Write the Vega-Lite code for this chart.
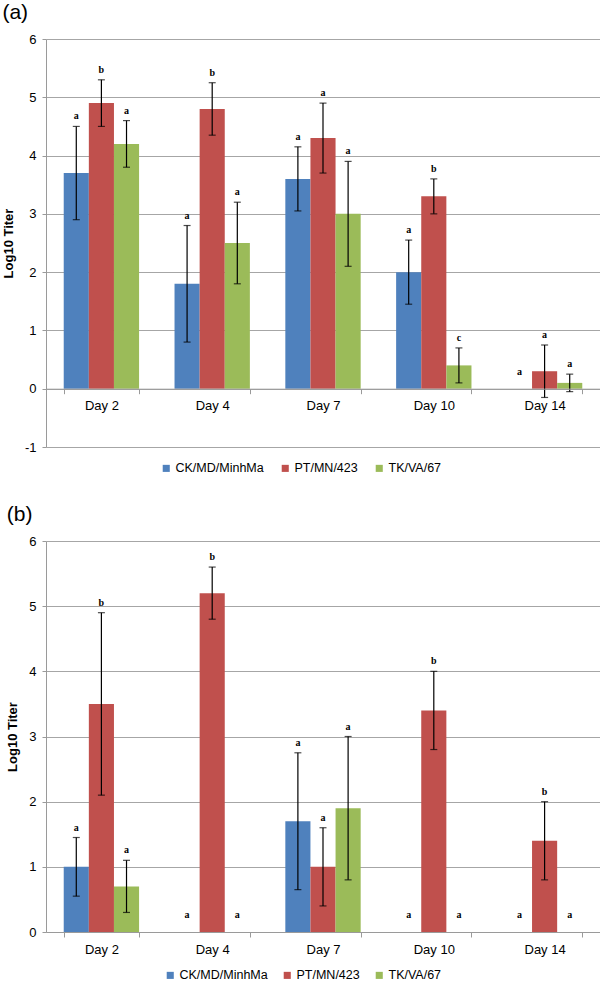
{
  "$schema": "https://vega.github.io/schema/vega-lite/v6.json",
  "background": "white",
  "padding": {"left": 2, "top": 2, "right": 3, "bottom": 0},
  "config": {
    "view": {"stroke": null},
    "font": "Liberation Sans",
    "axis": {"labelFont": "Liberation Sans", "labelFontSize": 13, "labelColor": "black", "titleFont": "Liberation Sans", "titleColor": "black", "gridColor": "#a6a6a6", "gridWidth": 1, "domainColor": "#9a9a9a", "tickColor": "#9a9a9a"},
    "title": {"font": "Liberation Sans", "fontSize": 21, "fontWeight": "normal", "color": "black", "anchor": "start", "frame": "bounds", "offset": 10},
    "legend": {"labelFont": "Liberation Sans", "labelFontSize": 12.5, "labelColor": "black", "padding": 0}
  },
  "datasets": {
    "d": [
      {"panel": "a", "day": "Day 2", "strain": "CK/MD/MinhMa", "value": 3.7, "lo": 2.9, "hi": 4.5, "letter": "a"},
      {"panel": "a", "day": "Day 2", "strain": "PT/MN/423", "value": 4.9, "lo": 4.5, "hi": 5.3, "letter": "b"},
      {"panel": "a", "day": "Day 2", "strain": "TK/VA/67", "value": 4.2, "lo": 3.8, "hi": 4.6, "letter": "a"},
      {"panel": "a", "day": "Day 4", "strain": "CK/MD/MinhMa", "value": 1.8, "lo": 0.8, "hi": 2.8, "letter": "a"},
      {"panel": "a", "day": "Day 4", "strain": "PT/MN/423", "value": 4.8, "lo": 4.35, "hi": 5.25, "letter": "b"},
      {"panel": "a", "day": "Day 4", "strain": "TK/VA/67", "value": 2.5, "lo": 1.8, "hi": 3.2, "letter": "a"},
      {"panel": "a", "day": "Day 7", "strain": "CK/MD/MinhMa", "value": 3.6, "lo": 3.05, "hi": 4.15, "letter": "a"},
      {"panel": "a", "day": "Day 7", "strain": "PT/MN/423", "value": 4.3, "lo": 3.7, "hi": 4.9, "letter": "a"},
      {"panel": "a", "day": "Day 7", "strain": "TK/VA/67", "value": 3.0, "lo": 2.1, "hi": 3.9, "letter": "a"},
      {"panel": "a", "day": "Day 10", "strain": "CK/MD/MinhMa", "value": 2.0, "lo": 1.45, "hi": 2.55, "letter": "a"},
      {"panel": "a", "day": "Day 10", "strain": "PT/MN/423", "value": 3.3, "lo": 3.0, "hi": 3.6, "letter": "b"},
      {"panel": "a", "day": "Day 10", "strain": "TK/VA/67", "value": 0.4, "lo": 0.1, "hi": 0.7, "letter": "c"},
      {"panel": "a", "day": "Day 14", "strain": "CK/MD/MinhMa", "value": 0, "lo": null, "hi": null, "letter": "a"},
      {"panel": "a", "day": "Day 14", "strain": "PT/MN/423", "value": 0.3, "lo": -0.15, "hi": 0.75, "letter": "a"},
      {"panel": "a", "day": "Day 14", "strain": "TK/VA/67", "value": 0.1, "lo": -0.05, "hi": 0.25, "letter": "a"},
      {"panel": "b", "day": "Day 2", "strain": "CK/MD/MinhMa", "value": 1.0, "lo": 0.55, "hi": 1.45, "letter": "a"},
      {"panel": "b", "day": "Day 2", "strain": "PT/MN/423", "value": 3.5, "lo": 2.1, "hi": 4.9, "letter": "b"},
      {"panel": "b", "day": "Day 2", "strain": "TK/VA/67", "value": 0.7, "lo": 0.3, "hi": 1.1, "letter": "a"},
      {"panel": "b", "day": "Day 4", "strain": "CK/MD/MinhMa", "value": 0, "lo": null, "hi": null, "letter": "a"},
      {"panel": "b", "day": "Day 4", "strain": "PT/MN/423", "value": 5.2, "lo": 4.8, "hi": 5.6, "letter": "b"},
      {"panel": "b", "day": "Day 4", "strain": "TK/VA/67", "value": 0, "lo": null, "hi": null, "letter": "a"},
      {"panel": "b", "day": "Day 7", "strain": "CK/MD/MinhMa", "value": 1.7, "lo": 0.65, "hi": 2.75, "letter": "a"},
      {"panel": "b", "day": "Day 7", "strain": "PT/MN/423", "value": 1.0, "lo": 0.4, "hi": 1.6, "letter": "a"},
      {"panel": "b", "day": "Day 7", "strain": "TK/VA/67", "value": 1.9, "lo": 0.8, "hi": 3.0, "letter": "a"},
      {"panel": "b", "day": "Day 10", "strain": "CK/MD/MinhMa", "value": 0, "lo": null, "hi": null, "letter": "a"},
      {"panel": "b", "day": "Day 10", "strain": "PT/MN/423", "value": 3.4, "lo": 2.8, "hi": 4.0, "letter": "b"},
      {"panel": "b", "day": "Day 10", "strain": "TK/VA/67", "value": 0, "lo": null, "hi": null, "letter": "a"},
      {"panel": "b", "day": "Day 14", "strain": "CK/MD/MinhMa", "value": 0, "lo": null, "hi": null, "letter": "a"},
      {"panel": "b", "day": "Day 14", "strain": "PT/MN/423", "value": 1.4, "lo": 0.8, "hi": 2.0, "letter": "b"},
      {"panel": "b", "day": "Day 14", "strain": "TK/VA/67", "value": 0, "lo": null, "hi": null, "letter": "a"}
    ]
  },
  "spacing": 29,
  "resolve": {"legend": {"color": "independent"}, "scale": {"y": "independent"}},
  "vconcat": [
    {
      "title": {"text": "(a)"},
      "width": 554,
      "height": 408,
      "data": {"name": "d"},
      "transform": [{"filter": "datum.panel == 'a'"}],
      "encoding": {
        "x": {"field": "day", "type": "nominal", "sort": ["Day 2", "Day 4", "Day 7", "Day 10", "Day 14"], "scale": {"paddingInner": 0.32, "paddingOuter": 0.16}, "axis": {"title": null, "labelAngle": 0, "offset": -58.3, "tickBand": "extent", "tickSize": 5, "labelPadding": 6, "grid": false, "zindex": 1}},
        "xOffset": {"field": "strain", "type": "nominal", "sort": ["CK/MD/MinhMa", "PT/MN/423", "TK/VA/67"]}
      },
      "layer": [
        {
          "mark": {"type": "bar"},
          "encoding": {
            "y": {"field": "value", "type": "quantitative", "scale": {"domain": [-1, 6], "nice": false}, "axis": {"title": "Log10 Titer", "labelExpr": "'' + datum.value", "titleFontSize": 13, "titleFontWeight": "bold", "titlePadding": 9, "values": [-1, 0, 1, 2, 3, 4, 5, 6], "tickSize": 4, "labelPadding": 6, "grid": true}},
            "color": {"field": "strain", "type": "nominal", "sort": ["CK/MD/MinhMa", "PT/MN/423", "TK/VA/67"], "scale": {"range": ["#4F81BD", "#C0504D", "#9BBB59"]}, "legend": {"title": null, "orient": "none", "legendX": 114, "legendY": 423, "direction": "horizontal", "symbolType": "square", "symbolSize": 50, "symbolStrokeWidth": 0, "labelOffset": 3, "columnPadding": 15}}
          }
        },
        {
          "transform": [{"filter": "datum.hi != null"}],
          "mark": {"type": "rule", "color": "black", "strokeWidth": 1.2},
          "encoding": {"y": {"field": "lo", "type": "quantitative"}, "y2": {"field": "hi"}}
        },
        {
          "transform": [{"filter": "datum.hi != null"}],
          "mark": {"type": "tick", "color": "black", "size": 7, "thickness": 1.2},
          "encoding": {"y": {"field": "lo", "type": "quantitative"}}
        },
        {
          "transform": [{"filter": "datum.hi != null"}],
          "mark": {"type": "tick", "color": "black", "size": 7, "thickness": 1.2},
          "encoding": {"y": {"field": "hi", "type": "quantitative"}}
        },
        {
          "transform": [{"filter": "datum.hi != null"}],
          "mark": {"type": "text", "font": "Liberation Serif", "fontWeight": "bold", "fontSize": 10, "baseline": "bottom", "dy": -5, "color": "black"},
          "encoding": {"y": {"field": "hi", "type": "quantitative"}, "text": {"field": "letter"}}
        },
        {
          "transform": [{"filter": "datum.hi == null"}],
          "mark": {"type": "text", "font": "Liberation Serif", "fontWeight": "bold", "fontSize": 10, "baseline": "bottom", "dy": -12, "color": "black"},
          "encoding": {"y": {"field": "value", "type": "quantitative"}, "text": {"field": "letter"}}
        }
      ]
    },
    {
      "title": {"text": "(b)"},
      "width": 554,
      "height": 391,
      "data": {"name": "d"},
      "transform": [{"filter": "datum.panel == 'b'"}],
      "encoding": {
        "x": {"field": "day", "type": "nominal", "sort": ["Day 2", "Day 4", "Day 7", "Day 10", "Day 14"], "scale": {"paddingInner": 0.32, "paddingOuter": 0.16}, "axis": {"title": null, "labelAngle": 0, "tickBand": "extent", "tickSize": 5, "labelPadding": 6, "grid": false, "zindex": 1}},
        "xOffset": {"field": "strain", "type": "nominal", "sort": ["CK/MD/MinhMa", "PT/MN/423", "TK/VA/67"]}
      },
      "layer": [
        {
          "mark": {"type": "bar"},
          "encoding": {
            "y": {"field": "value", "type": "quantitative", "scale": {"domain": [0, 6], "nice": false}, "axis": {"title": "Log10 Titer", "labelExpr": "'' + datum.value", "titleFontSize": 13, "titleFontWeight": "bold", "titlePadding": 9, "values": [0, 1, 2, 3, 4, 5, 6], "tickSize": 4, "labelPadding": 6, "grid": true}},
            "color": {"field": "strain", "type": "nominal", "sort": ["CK/MD/MinhMa", "PT/MN/423", "TK/VA/67"], "scale": {"range": ["#4F81BD", "#C0504D", "#9BBB59"]}, "legend": {"title": null, "orient": "none", "legendX": 118, "legendY": 428, "direction": "horizontal", "symbolType": "square", "symbolSize": 50, "symbolStrokeWidth": 0, "labelOffset": 3, "columnPadding": 13}}
          }
        },
        {
          "transform": [{"filter": "datum.hi != null"}],
          "mark": {"type": "rule", "color": "black", "strokeWidth": 1.2},
          "encoding": {"y": {"field": "lo", "type": "quantitative"}, "y2": {"field": "hi"}}
        },
        {
          "transform": [{"filter": "datum.hi != null"}],
          "mark": {"type": "tick", "color": "black", "size": 7, "thickness": 1.2},
          "encoding": {"y": {"field": "lo", "type": "quantitative"}}
        },
        {
          "transform": [{"filter": "datum.hi != null"}],
          "mark": {"type": "tick", "color": "black", "size": 7, "thickness": 1.2},
          "encoding": {"y": {"field": "hi", "type": "quantitative"}}
        },
        {
          "transform": [{"filter": "datum.hi != null"}],
          "mark": {"type": "text", "font": "Liberation Serif", "fontWeight": "bold", "fontSize": 10, "baseline": "bottom", "dy": -5, "color": "black"},
          "encoding": {"y": {"field": "hi", "type": "quantitative"}, "text": {"field": "letter"}}
        },
        {
          "transform": [{"filter": "datum.hi == null"}],
          "mark": {"type": "text", "font": "Liberation Serif", "fontWeight": "bold", "fontSize": 10, "baseline": "bottom", "dy": -12, "color": "black"},
          "encoding": {"y": {"field": "value", "type": "quantitative"}, "text": {"field": "letter"}}
        }
      ]
    }
  ]
}
